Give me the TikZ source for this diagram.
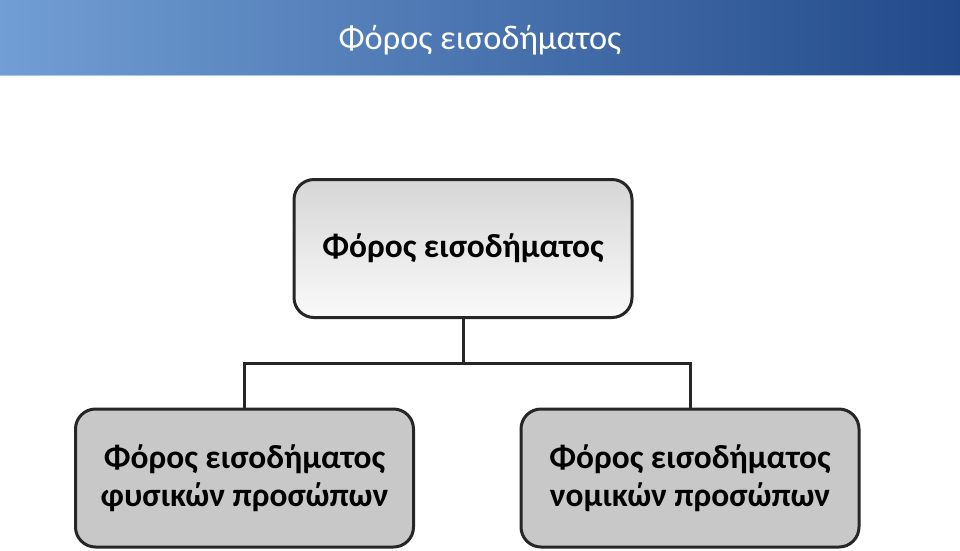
\documentclass[tikz,border=0pt]{standalone}
\usepackage{fontspec}
\setmainfont{Carlito}
\definecolor{banL}{HTML}{719ED4}
\definecolor{banR}{HTML}{224A8A}
\definecolor{boxgray}{HTML}{C8C8C8}
\definecolor{topT}{HTML}{D6D6D6}
\definecolor{topB}{HTML}{FAFAFA}
\begin{document}
\begin{tikzpicture}[x=1pt,y=-1pt,
  orgbox/.style={draw=black!85, line width=3pt, rounded corners=20pt, minimum width=338pt, minimum height=138pt, inner sep=0pt, align=center, font=\bfseries\fontsize{33.4}{38.5}\selectfont},
  link/.style={draw=black!85, line width=3pt}]
\useasboundingbox (0,0) rectangle (960,550);
\fill[left color=banL, right color=banR] (0,0) rectangle (960,75);
\draw[banL!60, line width=1pt] (0,75.5) -- (960,75.5);
\node[text=white, font=\fontsize{34.3}{40}\selectfont] (title) at (480,40) {Φόρος εισοδήματος};
\node[orgbox, top color=topT, bottom color=topB] (top) at (463,248.5) {Φόρος εισοδήματος};
\node[orgbox, fill=boxgray] (left) at (244.5,478) {Φόρος εισοδήματος\\φυσικών προσώπων};
\node[orgbox, fill=boxgray] (right) at (690,478) {Φόρος εισοδήματος\\νομικών προσώπων};
\draw[link] (top.south) -- ++(0,44) coordinate (mid);
\draw[link] (left.north) |- (mid) -| (right.north);
\end{tikzpicture}
\end{document}
